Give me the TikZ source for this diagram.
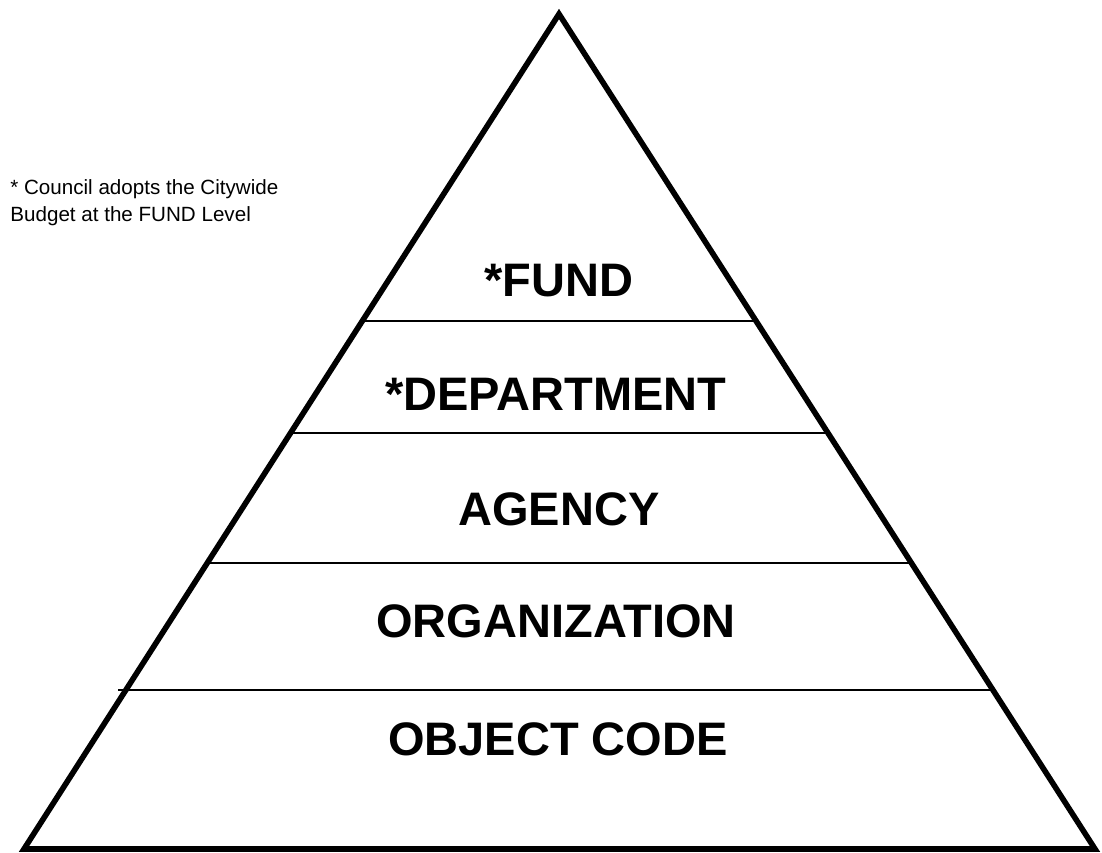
\documentclass[tikz,border=0pt]{standalone}
\usepackage{fontspec}
\setmainfont{Liberation Sans}
\usepackage{tikz}
\usetikzlibrary{positioning,calc}
\tikzstyle{outline} = [draw, line width=2.8pt, line join=miter]
\tikzstyle{divider} = [draw, line width=1pt]
\tikzstyle{level} = [anchor=base, inner sep=0pt, font=\fontsize{23.5}{28}\selectfont\bfseries]
\tikzstyle{note} = [anchor=base west, inner sep=0pt, align=left, font=\fontsize{10.3}{13.5}\selectfont]

\begin{document}
\begin{tikzpicture}[x=0.5pt, y=-0.5pt]
		\useasboundingbox (0,0) rectangle (1102,852);
		\coordinate (apex) at (559,14);
		\coordinate (bl) at (24,849);
		\coordinate (br) at (1095,849);
		% dividers between the levels
		\draw[divider] ($(apex)!0.368!(bl)$) -- ($(apex)!0.368!(br)$);
		\draw[divider] ($(apex)!0.502!(bl)$) -- ($(apex)!0.502!(br)$);
		\draw[divider] ($(apex)!0.657!(bl)$) -- ($(apex)!0.657!(br)$);
		\draw[divider] ([xshift=-4pt]$(apex)!0.809!(bl)$) -- ($(apex)!0.809!(br)$);
		\draw[outline] (apex) -- (br) -- (bl) -- cycle;
		% levels
		\node (fund) [level] at (559,296) {*FUND};
		\node (dept) [level] at (556,410) {*DEPARTMENT};
		\node (agency) [level] at (559,525) {AGENCY};
		\node (org) [level] at (556,637) {ORGANIZATION};
		\node (objcode) [level] at (558,755) {OBJECT CODE};
		\node (remark) [note] at (10,221) {* Council adopts the Citywide\\Budget at the FUND Level};
		\end{tikzpicture}
\end{document}
